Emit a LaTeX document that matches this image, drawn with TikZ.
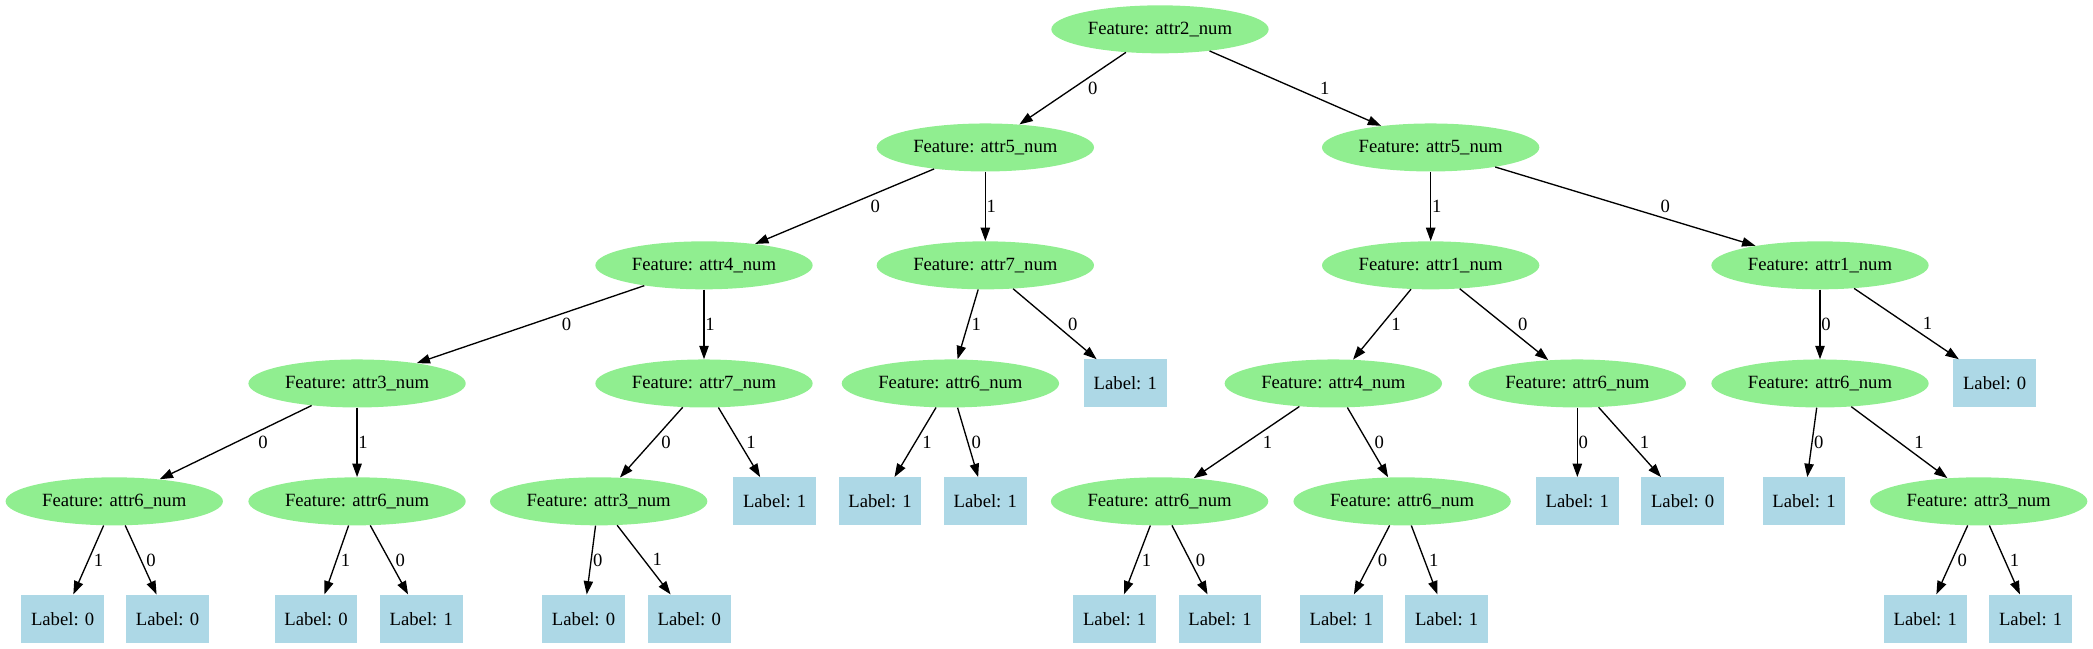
\documentclass[tikz,border=0pt]{standalone}
\usepackage{fontspec}
\setmainfont{Liberation Serif}
\usetikzlibrary{shapes.geometric,arrows.meta}
\definecolor{featgreen}{HTML}{90EE90}
\definecolor{leafblue}{HTML}{ADD8E6}
\begin{document}
\begin{tikzpicture}[x=1pt,y=-1pt,
    every node/.style={font=\fontsize{14}{17}\selectfont},
    feat/.style={ellipse,fill=featgreen,minimum width=163pt,minimum height=36pt,inner sep=0pt},
    leaf/.style={rectangle,fill=leafblue,minimum width=62pt,minimum height=36pt,inner sep=0pt},
    arr/.style={-{Triangle[length=10pt,width=7pt]},line width=1pt},
    lbl/.style={midway,anchor=west,inner sep=0pt}]
    \useasboundingbox (0,0) rectangle (1569.75,486.75);
    % rank 0 and 1
    \node[feat] (root) at (870,22) {Feature: attr2\_num};
    \node[feat] (a5l) at (739,110.6) {Feature: attr5\_num};
    \node[feat] (a5r) at (1073,110.6) {Feature: attr5\_num};
    % rank 2
    \node[feat] (a4) at (528,199) {Feature: attr4\_num};
    \node[feat] (a7) at (739,199) {Feature: attr7\_num};
    \node[feat] (a1) at (1073,199) {Feature: attr1\_num};
    \node[feat] (a1r) at (1365,199) {Feature: attr1\_num};
    % rank 3
    \node[feat] (a3) at (267.8,287.6) {Feature: attr3\_num};
    \node[feat] (a7b) at (528,287.6) {Feature: attr7\_num};
    \node[feat] (a6a) at (712.8,287.6) {Feature: attr6\_num};
    \node[leaf] (l1a) at (844,287.6) {Label: 1};
    \node[feat] (a4b) at (1000,287.6) {Feature: attr4\_num};
    \node[feat] (a6b) at (1183,287.6) {Feature: attr6\_num};
    \node[feat] (a6c) at (1365,287.6) {Feature: attr6\_num};
    \node[leaf] (l0a) at (1496,287.6) {Label: 0};
    % rank 4
    \node[feat] (a6d) at (85.7,376) {Feature: attr6\_num};
    \node[feat] (a6e) at (267.8,376) {Feature: attr6\_num};
    \node[feat] (a3b) at (449,376) {Feature: attr3\_num};
    \node[leaf] (l1b) at (581,376) {Label: 1};
    \node[leaf] (l1c) at (660,376) {Label: 1};
    \node[leaf] (l1d) at (739,376) {Label: 1};
    \node[feat] (a6f) at (869.7,376) {Feature: attr6\_num};
    \node[feat] (a6g) at (1051.6,376) {Feature: attr6\_num};
    \node[leaf] (l1e) at (1183,376) {Label: 1};
    \node[leaf] (l0b) at (1262,376) {Label: 0};
    \node[leaf] (l1f) at (1353,376) {Label: 1};
    \node[feat] (a3c) at (1484,376) {Feature: attr3\_num};
    % rank 5
    \node[leaf] (l0c) at (47,464) {Label: 0};
    \node[leaf] (l0d) at (125.7,464) {Label: 0};
    \node[leaf] (l0e) at (237,464) {Label: 0};
    \node[leaf] (l1g) at (316,464) {Label: 1};
    \node[leaf] (l0f) at (437.7,464) {Label: 0};
    \node[leaf] (l0g) at (517,464) {Label: 0};
    \node[leaf] (l1h) at (836,464) {Label: 1};
    \node[leaf] (l1i) at (915,464) {Label: 1};
    \node[leaf] (l1j) at (1006,464) {Label: 1};
    \node[leaf] (l1k) at (1085,464) {Label: 1};
    \node[leaf] (l1l) at (1444,464) {Label: 1};
    \node[leaf] (l1m) at (1523,464) {Label: 1};
    % edges
    \draw[arr] (root) -- node[lbl,xshift=11pt] {0} (a5l);
    \draw[arr] (root) -- node[lbl,xshift=18pt] {1} (a5r);
    \draw[arr] (a5l) -- node[lbl,xshift=19pt] {0} (a4);
    \draw[arr] (a5l) -- node[lbl,xshift=0.5pt] {1} (a7);
    \draw[arr] (a5r) -- node[lbl,xshift=0.5pt] {1} (a1);
    \draw[arr] (a5r) -- node[lbl,xshift=26pt] {0} (a1r);
    \draw[arr] (a4) -- node[lbl,xshift=23pt] {0} (a3);
    \draw[arr] (a4) -- node[lbl,xshift=0.5pt] {1} (a7b);
    \draw[arr] (a7) -- node[lbl,xshift=2.3pt] {1} (a6a);
    \draw[arr] (a7) -- node[lbl,xshift=9.5pt] {0} (l1a);
    \draw[arr] (a1) -- node[lbl,xshift=6.6pt] {1} (a4b);
    \draw[arr] (a1) -- node[lbl,xshift=10pt] {0} (a6b);
    \draw[arr] (a1r) -- node[lbl,xshift=0.5pt] {0} (a6c);
    \draw[arr] (a1r) -- node[lbl,xshift=11.8pt] {1} (l0a);
    \draw[arr] (a3) -- node[lbl,xshift=16.5pt] {0} (a6d);
    \draw[arr] (a3) -- node[lbl,xshift=0.5pt] {1} (a6e);
    \draw[arr] (a7b) -- node[lbl,xshift=7pt] {0} (a3b);
    \draw[arr] (a7b) -- node[lbl,xshift=4.8pt] {1} (l1b);
    \draw[arr] (a6a) -- node[lbl,xshift=4.8pt] {1} (l1c);
    \draw[arr] (a6a) -- node[lbl,xshift=2.4pt] {0} (l1d);
    \draw[arr] (a4b) -- node[lbl,xshift=11.8pt] {1} (a6f);
    \draw[arr] (a4b) -- node[lbl,xshift=4.7pt] {0} (a6g);
    \draw[arr] (a6b) -- node[lbl,xshift=0.5pt] {0} (l1e);
    \draw[arr] (a6b) -- node[lbl,xshift=7pt] {1} (l0b);
    \draw[arr] (a6c) -- node[lbl,xshift=1pt] {0} (l1f);
    \draw[arr] (a6c) -- node[lbl,xshift=10.8pt] {1} (a3c);
    \draw[arr] (a6d) -- node[lbl,xshift=3.5pt] {1} (l0c);
    \draw[arr] (a6d) -- node[lbl,xshift=3.6pt] {0} (l0d);
    \draw[arr] (a6e) -- node[lbl,xshift=2.8pt] {1} (l0e);
    \draw[arr] (a6e) -- node[lbl,xshift=4.4pt] {0} (l1g);
    \draw[arr] (a3b) -- node[lbl,xshift=1pt] {0} (l0f);
    \draw[arr] (a3b) -- node[lbl,xshift=6.1pt] {1} (l0g);
    \draw[arr] (a6f) -- node[lbl,xshift=3pt] {1} (l1h);
    \draw[arr] (a6f) -- node[lbl,xshift=4pt] {0} (l1i);
    \draw[arr] (a6g) -- node[lbl,xshift=4.1pt] {0} (l1j);
    \draw[arr] (a6g) -- node[lbl,xshift=3pt] {1} (l1k);
    \draw[arr] (a3c) -- node[lbl,xshift=3.6pt] {0} (l1l);
    \draw[arr] (a3c) -- node[lbl,xshift=3.5pt] {1} (l1m);
\end{tikzpicture}
\end{document}
